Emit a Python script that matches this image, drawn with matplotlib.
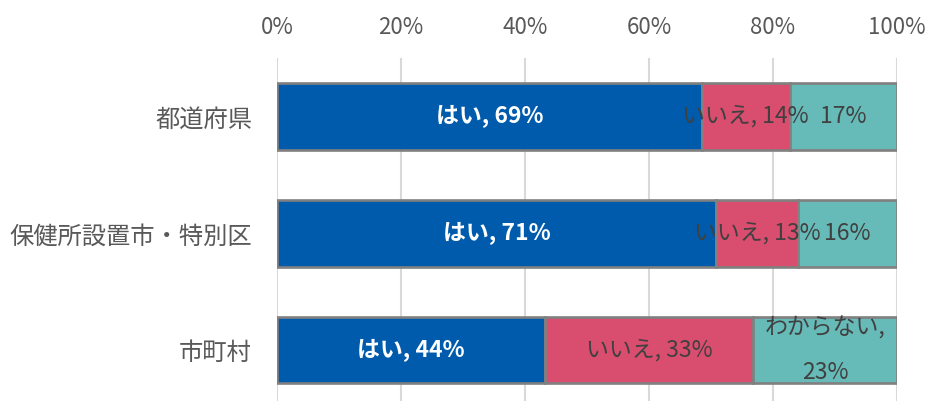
import numpy as np
import matplotlib
matplotlib.use("Agg")
import matplotlib.pyplot as plt

plt.rcParams['font.family'] = ['Noto Sans CJK JP', 'DejaVu Sans']

categories = ['都道府県', '保健所設置市・特別区', '市町村']
yes_vals = [68.5, 70.8, 43.3]
no_vals = [14.2, 13.2, 33.5]
dk_vals = [17.3, 16.0, 23.2]
yes_labels = ['はい, 69%', 'はい, 71%', 'はい, 44%']
no_labels = ['いいえ, 14%', 'いいえ, 13%', 'いいえ, 33%']
dk_labels = ['17%', '16%', 'わからない,\n\n23%']
ticks = [0, 20, 40, 60, 80, 100]

c_yes = '#005bac'
c_no = '#d94d6e'
c_dk = '#66bab7'
edge = '#808080'
txt = '#404040'

fig = plt.figure(figsize=(9.28, 4.01), dpi=100)
ax = fig.add_axes([277/928, -0.01, 620/928, 0.8654])

y = np.arange(len(categories))
h = 0.57
kw = dict(height=h, edgecolor=edge, linewidth=1.9, zorder=3)
b1 = ax.barh(y, yes_vals, color=c_yes, **kw)
b2 = ax.barh(y, no_vals, left=yes_vals, color=c_no, **kw)
left3 = np.array(yes_vals) + np.array(no_vals)
b3 = ax.barh(y, dk_vals, left=left3, color=c_dk, **kw)

ax.bar_label(b1, labels=yes_labels, label_type='center', color='white',
             fontsize=16.5, fontweight='bold', zorder=5)
ax.bar_label(b2, labels=no_labels, label_type='center', color=txt,
             fontsize=16.5, zorder=5)
ax.bar_label(b3, labels=dk_labels, label_type='center', color=txt,
             fontsize=16.5, zorder=5, linespacing=0.95)

ax.set_xlim(0, 100)
ax.set_ylim(2.47, -0.5)
ax.set_yticks(y)
ax.set_yticklabels(categories, fontsize=17.5, color='#595959')
ax.set_xticks(ticks)
ax.set_xticklabels([f'{t}%' for t in ticks], fontsize=16, color='#595959')
ax.xaxis.tick_top()
ax.tick_params(axis='x', length=0, pad=14)
ax.tick_params(axis='y', length=0, pad=18)
ax.grid(axis='x', color='#d9d9d9', linewidth=1.5, zorder=0)
for s in ax.spines.values():
    s.set_visible(False)

fig.savefig('out.png', dpi=100)
